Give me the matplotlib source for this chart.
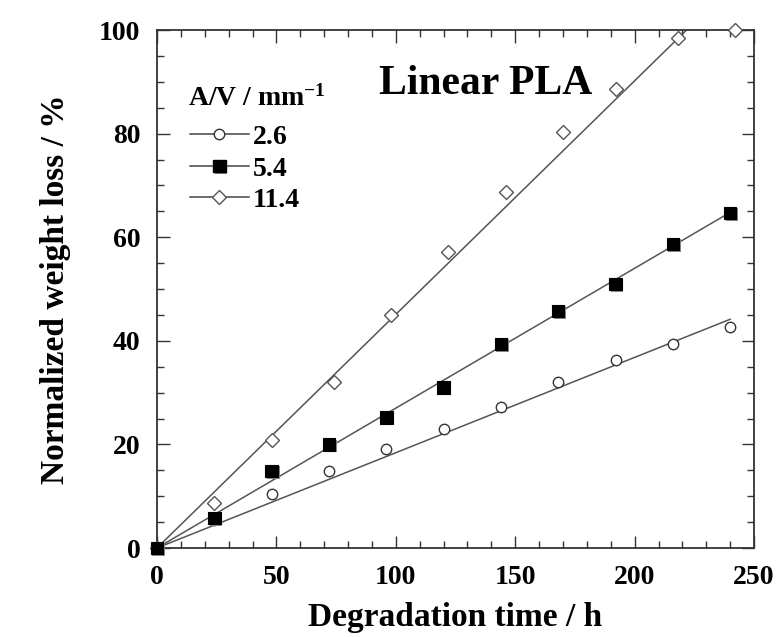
import matplotlib
matplotlib.use("Agg")
import matplotlib.pyplot as plt
import matplotlib.patheffects as pe
import numpy as np
from matplotlib.ticker import MultipleLocator

plt.rcParams["font.family"] = ["Liberation Serif", "DejaVu Serif"]
plt.rcParams["font.weight"] = "bold"
plt.rcParams["mathtext.fontset"] = "custom"
plt.rcParams["mathtext.rm"] = "Liberation Serif:bold"
plt.rcParams["mathtext.default"] = "rm"

# ---- data ----
t_circ = [0, 24, 48, 72, 96, 120, 144, 168, 192, 216, 240]
w_circ = [0, 5.5, 10.4, 14.9, 19.1, 23.0, 27.3, 32.0, 36.3, 39.3, 42.7]

t_sq = [0, 24, 48, 72, 96, 120, 144, 168, 192, 216, 240]
w_sq = [0, 5.8, 14.9, 20.0, 25.2, 31.0, 39.4, 45.8, 51.0, 58.7, 64.7]

t_dia = [0, 24, 48, 74, 98, 122, 146, 170, 192, 218, 242]
w_dia = [0, 8.7, 20.8, 32.0, 45.0, 57.1, 68.7, 80.3, 88.7, 98.5, 100.0]

# slopes of the linear fits (% per h)
slopes = [0.184, 0.270, 0.451]
t_fit_end = [240, 240, 240]
labels = ["2.6", "5.4", "11.4"]

fig = plt.figure(figsize=(7.79, 6.37), dpi=100)
ax = fig.add_axes([0.2015, 0.1397, 0.7665, 0.8132])

line_col = "#555555"
for k, t_end in zip(slopes, t_fit_end):
    tt = np.linspace(0, t_end, 50)
    ax.plot(tt, k * tt, color=line_col, lw=1.1, zorder=1)

shadow = [pe.SimplePatchShadow(offset=(1.2, -1.2), shadow_rgbFace="#8a8a8a",
                               alpha=1.0), pe.Normal()]

h1, = ax.plot(t_circ, w_circ, "o", ms=7.5, mfc="white", mec="#333333", mew=1.0,
              zorder=3, clip_on=False)
h2, = ax.plot(t_sq, w_sq, "s", ms=9, mfc="black", mec="black", mew=0.8,
              zorder=4, clip_on=False, path_effects=shadow)
h3, = ax.plot(t_dia, w_dia, "D", ms=7, mfc="white", mec="#555555", mew=1.0,
              zorder=3, clip_on=False)

# legend handles: line + marker
lh = []
for h in (h1, h2, h3):
    l, = ax.plot([], [], color="#444444", lw=1.1, marker=h.get_marker(),
                 ms=h.get_markersize(), mfc=h.get_mfc(), mec=h.get_mec(),
                 mew=1.0, path_effects=(shadow if h is h2 else None))
    lh.append(l)
leg = ax.legend(lh, labels, frameon=False,
                loc="center left", bbox_to_anchor=(0.037, 0.732),
                fontsize=20, handlelength=2.1,
                handletextpad=0.15, labelspacing=0.22, borderaxespad=0)
for txt in leg.get_texts():
    txt.set_fontweight("bold")

ax.text(0.052, 0.869, "A/V / mm$^{-1}$", transform=ax.transAxes, ha="left",
        va="center", fontsize=20, fontweight="bold")
ax.text(0.55, 0.895, "Linear PLA", transform=ax.transAxes, ha="center",
        va="center", fontsize=30, fontweight="bold")

ax.set_xlim(0, 250)
ax.set_ylim(0, 100)
ax.xaxis.set_major_locator(MultipleLocator(50))
ax.xaxis.set_minor_locator(MultipleLocator(10))
ax.yaxis.set_major_locator(MultipleLocator(20))
ax.yaxis.set_minor_locator(MultipleLocator(5))
ax.tick_params(which="both", direction="in", top=True, right=True,
               color="#333333", width=1.0)
ax.tick_params(which="major", length=9, labelsize=20, pad=12)
ax.tick_params(which="minor", length=5)
for lab in ax.get_xticklabels() + ax.get_yticklabels():
    lab.set_fontweight("bold")
for s in ax.spines.values():
    s.set_color("#333333")
    s.set_linewidth(1.3)

ax.set_xlabel("Degradation time / h", fontsize=24, fontweight="bold",
              labelpad=9)
ax.set_ylabel("Normalized weight loss / %", fontsize=24, fontweight="bold",
              labelpad=20)

fig.savefig("out.png", dpi=100, facecolor="white")
